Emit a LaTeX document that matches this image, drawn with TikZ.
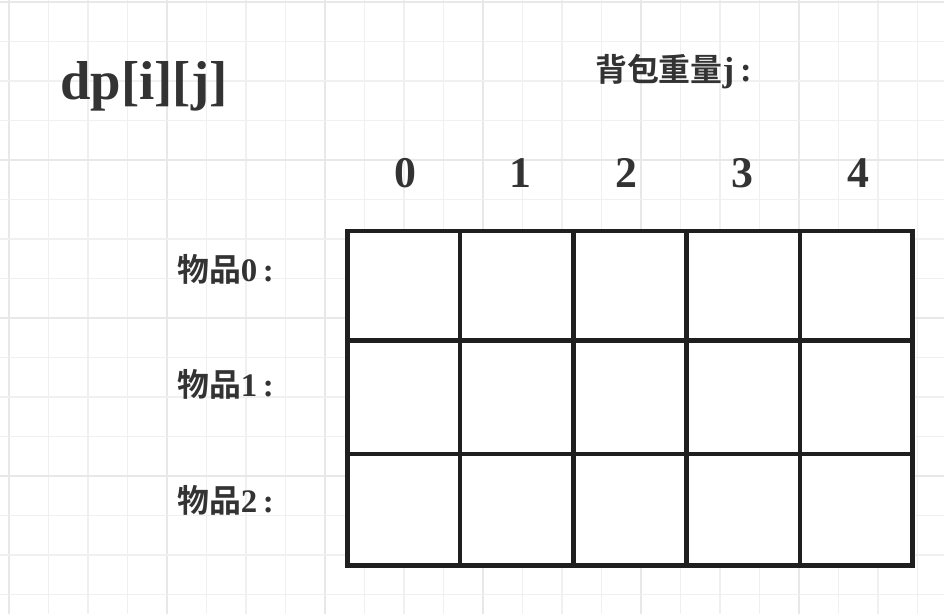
\documentclass[tikz,border=0pt]{standalone}
\usepackage{fontspec}
\setmainfont{Liberation Serif}
\newfontfamily\cjk{Noto Sans CJK SC}[BoldFont={* Bold}]
\begin{document}
\begin{tikzpicture}[x=1bp,y=-1bp,
  minorgrid/.style={draw=black!6,line width=1.6bp},
  majorgrid/.style={draw=black!9,line width=1.6bp},
  cellline/.style={draw=black!88,line width=4.5bp},
  txt/.style={inner sep=0pt,text=black!80,font=\bfseries},
  title/.style={txt,anchor=base west,font=\bfseries\fontsize{55}{60}\selectfont},
  colnum/.style={txt,anchor=base,font=\bfseries\fontsize{44}{48}\selectfont},
  rowlab/.style={txt,anchor=base west,font=\bfseries\fontsize{33}{36}\selectfont},
  toplab/.style={txt,anchor=base west,font=\bfseries\fontsize{35}{38}\selectfont}]
\useasboundingbox[fill=white] (0,0) rectangle (944,614);
% background grid
\foreach \k in {0,...,23}{
  \pgfmathtruncatemacro{\m}{mod(\k,4)}
  \ifnum\m=0 \draw[majorgrid] ({9+39.5*\k},0) -- ({9+39.5*\k},614);
  \else \draw[minorgrid] ({9+39.5*\k},0) -- ({9+39.5*\k},614); \fi
}
\foreach \k in {0,...,15}{
  \pgfmathtruncatemacro{\m}{mod(\k,4)}
  \ifnum\m=0 \draw[majorgrid] (0,{2+39.5*\k}) -- (944,{2+39.5*\k});
  \else \draw[minorgrid] (0,{2+39.5*\k}) -- (944,{2+39.5*\k}); \fi
}
% table
\fill[white] (347.5,231) rectangle (912.5,565.5);
\foreach \x in {347.5,460,573.3,686.7,800,912.5}
  \draw[cellline] (\x,231) -- (\x,565.5);
\foreach \y in {231,340.5,454,565.5}
  \draw[cellline] (347.5,\y) -- (912.5,\y);
\draw[cellline,line join=miter] (347.5,231) rectangle (912.5,565.5);
% texts
\node[title] (dp) at (60,100) {dp[i][j]};
\node[toplab] (bag) at (595,82) {{\cjk\fontsize{32}{34}\selectfont\bfseries 背包重量}j\,:};
\node[colnum] (c0) at (405,188) {0};
\node[colnum] (c1) at (520,188) {1};
\node[colnum] (c2) at (626,188) {2};
\node[colnum] (c3) at (742,188) {3};
\node[colnum] (c4) at (858,188) {4};
\node[rowlab] (r0) at (177,282) {{\cjk\fontsize{32}{34}\selectfont\bfseries 物品}0\,:};
\node[rowlab] (r1) at (177,396) {{\cjk\fontsize{32}{34}\selectfont\bfseries 物品}1\,:};
\node[rowlab] (r2) at (177,512) {{\cjk\fontsize{32}{34}\selectfont\bfseries 物品}2\,:};
\end{tikzpicture}
\end{document}
